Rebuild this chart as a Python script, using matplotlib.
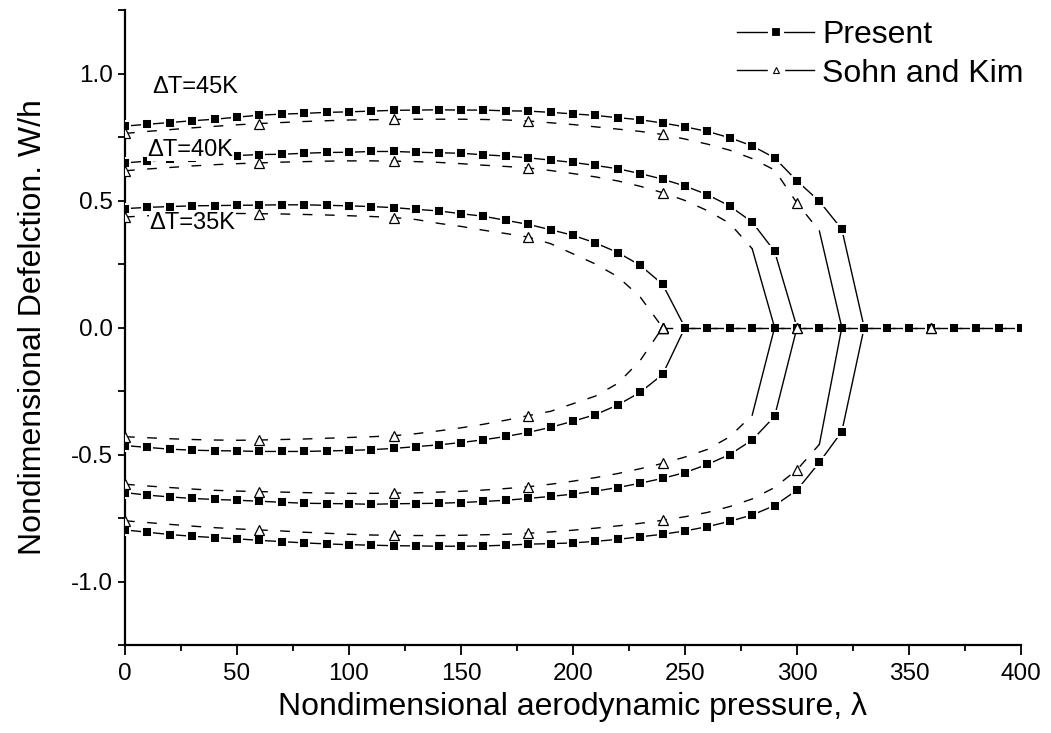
"""
Nonlinear flutter deflection vs aerodynamic pressure for three temperature rises.
Present results (squares) compared with Sohn and Kim (triangles).
"""

import numpy as np
import matplotlib.pyplot as plt
from matplotlib.lines import Line2D

plt.rcParams["font.family"] = ["Liberation Sans", "DejaVu Sans"]
plt.rcParams["axes.unicode_minus"] = False

# ---- data ----
# Present: points every 10 in lambda, from 0 up to the flutter boundary
lam_p35 = np.arange(0, 251, 10)
w_p35_up = [0.468, 0.473, 0.476, 0.479, 0.480, 0.481, 0.482, 0.483, 0.483, 0.481,
            0.479, 0.476, 0.472, 0.465, 0.459, 0.448, 0.438, 0.422, 0.406, 0.385,
            0.363, 0.333, 0.295, 0.245, 0.170, 0.0]
w_p35_lo = [-0.465, -0.472, -0.479, -0.483, -0.485, -0.486, -0.488, -0.488, -0.488, -0.486,
            -0.484, -0.481, -0.476, -0.469, -0.462, -0.453, -0.442, -0.429, -0.413, -0.393,
            -0.369, -0.343, -0.305, -0.255, -0.185, 0.0]

lam_p40 = np.arange(0, 301, 10)
w_p40_up = [0.648, 0.655, 0.662, 0.668, 0.673, 0.677, 0.681, 0.682, 0.686, 0.689,
            0.690, 0.693, 0.693, 0.690, 0.688, 0.686, 0.680, 0.675, 0.668, 0.659,
            0.650, 0.638, 0.625, 0.606, 0.584, 0.557, 0.523, 0.478, 0.415, 0.300, 0.0]
w_p40_lo = [-0.650, -0.660, -0.667, -0.673, -0.677, -0.680, -0.684, -0.688, -0.692, -0.693,
            -0.694, -0.696, -0.694, -0.693, -0.692, -0.689, -0.685, -0.680, -0.673, -0.665,
            -0.656, -0.644, -0.630, -0.613, -0.594, -0.571, -0.539, -0.500, -0.443, -0.350, 0.0]

lam_p45 = np.arange(0, 331, 10)
w_p45_up = [0.793, 0.800, 0.807, 0.814, 0.820, 0.828, 0.836, 0.840, 0.843, 0.847,
            0.849, 0.852, 0.855, 0.856, 0.857, 0.856, 0.856, 0.853, 0.852, 0.847,
            0.841, 0.835, 0.826, 0.818, 0.805, 0.790, 0.772, 0.747, 0.715, 0.668,
            0.577, 0.497, 0.387, 0.0]
w_p45_lo = [-0.797, -0.806, -0.815, -0.822, -0.827, -0.832, -0.838, -0.843, -0.848, -0.852,
            -0.855, -0.857, -0.859, -0.860, -0.861, -0.861, -0.860, -0.857, -0.853, -0.851,
            -0.848, -0.842, -0.834, -0.824, -0.814, -0.801, -0.784, -0.763, -0.738, -0.701,
            -0.640, -0.531, -0.410, 0.0]

# flat (zero deflection) branch beyond the boundary
lam_p0 = np.arange(250, 401, 10)
w_p0 = [0.0] * len(lam_p0)

# Sohn and Kim: digitised every 10, symbols drawn every 60
lam_s35 = np.arange(0, 241, 10)
w_s35_up = [0.435, 0.440, 0.443, 0.446, 0.448, 0.449, 0.448, 0.447, 0.445, 0.443,
            0.440, 0.437, 0.433, 0.425, 0.410, 0.398, 0.383, 0.370, 0.356, 0.330,
            0.290, 0.250, 0.200, 0.120, 0.0]
w_s35_lo = [-0.430, -0.434, -0.438, -0.441, -0.443, -0.444, -0.443, -0.441, -0.439, -0.436,
            -0.433, -0.430, -0.426, -0.418, -0.407, -0.395, -0.381, -0.365, -0.347, -0.330,
            -0.300, -0.270, -0.220, -0.130, 0.0]

lam_s40 = np.arange(0, 291, 10)
w_s40_up = [0.617, 0.624, 0.630, 0.636, 0.641, 0.645, 0.648, 0.651, 0.653, 0.655,
            0.656, 0.656, 0.655, 0.653, 0.650, 0.645, 0.639, 0.634, 0.628, 0.618,
            0.606, 0.593, 0.577, 0.556, 0.531, 0.500, 0.460, 0.410, 0.310, 0.0]
w_s40_lo = [-0.617, -0.624, -0.630, -0.636, -0.641, -0.644, -0.646, -0.648, -0.650, -0.652,
            -0.653, -0.653, -0.652, -0.651, -0.648, -0.645, -0.640, -0.634, -0.627, -0.617,
            -0.605, -0.591, -0.575, -0.556, -0.535, -0.510, -0.480, -0.430, -0.345, 0.0]

lam_s45 = np.arange(0, 321, 10)
w_s45_up = [0.764, 0.772, 0.779, 0.786, 0.792, 0.798, 0.803, 0.807, 0.811, 0.814,
            0.817, 0.818, 0.819, 0.820, 0.820, 0.820, 0.819, 0.817, 0.813, 0.806,
            0.799, 0.790, 0.781, 0.772, 0.760, 0.742, 0.722, 0.698, 0.665, 0.620,
            0.490, 0.380, 0.0]
w_s45_lo = [-0.761, -0.768, -0.775, -0.782, -0.788, -0.793, -0.797, -0.801, -0.806, -0.810,
            -0.814, -0.817, -0.818, -0.819, -0.819, -0.818, -0.816, -0.814, -0.810, -0.805,
            -0.798, -0.790, -0.781, -0.771, -0.759, -0.745, -0.728, -0.705, -0.675, -0.630,
            -0.560, -0.460, 0.0]

lam_s0 = np.arange(240, 401, 10)
w_s0 = [0.0] * len(lam_s0)

# curve labels: text, lambda, W/h
dt_labels = ["\u0394T=45K", "\u0394T=40K", "\u0394T=35K"]
dt_pos = [(12, 0.945), (10, 0.70), (11, 0.41)]

# ---- plot ----
fig = plt.figure(figsize=(10.51, 7.33), dpi=100)
ax = fig.add_axes([125 / 1051, 88 / 733, 896 / 1051, 635 / 733])

present_style = dict(color="black", lw=1.0, marker="s", ms=7.4,
                     mfc="black", mec="white", mew=1.4, zorder=3)
sohn_style = dict(color="black", lw=1.0, dashes=(7, 9), marker="^", ms=7,
                  mfc="white", mec="black", mew=0.9, markevery=6, zorder=4)

# Sohn zero branch first so the present squares sit on it
ax.plot(lam_s0, w_s0, **sohn_style)
ax.plot(lam_p0, w_p0, **present_style)

for lam, up, lo in [(lam_p35, w_p35_up, w_p35_lo),
                    (lam_p40, w_p40_up, w_p40_lo),
                    (lam_p45, w_p45_up, w_p45_lo)]:
    ax.plot(lam, up, **present_style)
    ax.plot(lam, lo, **present_style)

ax.plot(lam_s35, w_s35_up, **sohn_style)
ax.plot(lam_s35, w_s35_lo, **sohn_style)
# 40K and 45K: the last steep drop to zero is a single solid stroke in the original
for lam, up, lo in [(lam_s40, w_s40_up, w_s40_lo),
                    (lam_s45, w_s45_up, w_s45_lo)]:
    for w in (up, lo):
        ax.plot(lam[:-1], w[:-1], **sohn_style)
        ax.plot(lam[-2:], w[-2:], color="black", lw=1.0, zorder=4)

# triangles on the zero line drawn on top of the squares
ax.plot(lam_s0, w_s0, ls="none", marker="^", ms=7, mfc="white",
        mec="black", mew=0.9, markevery=6, zorder=5)

for txt, (x, y) in zip(dt_labels, dt_pos):
    ax.text(x, y, txt, fontsize=17, va="center", ha="left", zorder=6,
            bbox=dict(facecolor="white", edgecolor="none", pad=0.5))

# axes look
ax.set_xlim(0, 400)
ax.set_ylim(-1.25, 1.25)
ax.spines["top"].set_visible(False)
ax.spines["right"].set_visible(False)
ax.spines["left"].set_linewidth(1.6)
ax.spines["bottom"].set_linewidth(1.6)

ax.set_xticks(np.arange(0, 401, 50))
ax.set_xticks(np.arange(0, 401, 25), minor=True)
ax.set_yticks([-1.0, -0.5, 0.0, 0.5, 1.0])
ax.set_yticks(np.arange(-1.25, 1.26, 0.25), minor=True)
ax.set_yticklabels(["-1.0", "-0.5", "0.0", "0.5", "1.0"])
ax.tick_params(which="major", direction="out", length=7, width=1.3, labelsize=17.5)
ax.tick_params(which="minor", direction="out", length=4, width=1.3)
ax.tick_params(axis="y", which="both", length=5)
ax.tick_params(axis="x", which="major", pad=6)

ax.set_xlabel("Nondimensional aerodynamic pressure, \u03bb", fontsize=23, labelpad=5)
ax.set_ylabel("Nondimensional Defelction. W/h", fontsize=23, labelpad=17)

# legend: line with a gap either side of the symbol
h_present = Line2D([], [], color="black", lw=1.0, marker="s", ms=8,
                   mfc="black", mec="white", mew=3)
gap = Line2D([], [], ls="none", marker="s", ms=11, mfc="white", mec="white")
tri = Line2D([], [], ls="none", marker="^", ms=5, mfc="white", mec="black", mew=0.8)
line = Line2D([], [], color="black", lw=1.0)
ax.legend([h_present, (line, gap, tri)], ["Present", "Sohn and Kim"],
          loc="upper right", bbox_to_anchor=(1.035, 1.03), frameon=False,
          fontsize=23, handlelength=2.4, handletextpad=0.25, labelspacing=0.28)

fig.savefig("out.png", dpi=100)
